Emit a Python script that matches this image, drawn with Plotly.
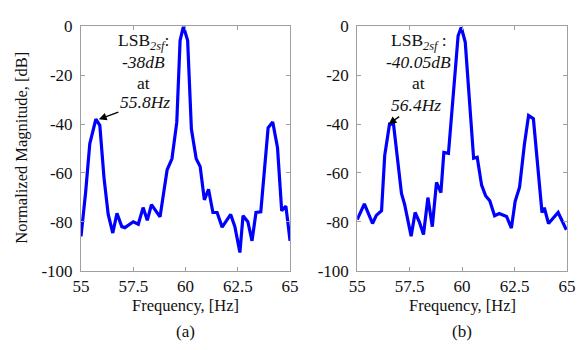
import plotly.graph_objects as go

# ---------------- data ----------------
freq_a = [55.0, 55.22, 55.42, 55.71, 55.9, 56.1, 56.3, 56.52, 56.72, 56.95, 57.1, 57.5,
          57.74, 57.97, 58.17, 58.37, 58.78, 59.12, 59.35, 59.58, 59.74, 59.9, 60.1,
          60.28, 60.51, 60.7, 60.9, 61.1, 61.31, 61.51, 61.75, 62.16, 62.36, 62.6,
          62.75, 62.98, 63.18, 63.37, 63.6, 63.95, 64.17, 64.4, 64.6, 64.8, 65.0]
mag_a = [-86.0, -68.0, -48.0, -38.0, -40.5, -62.0, -77.0, -84.6, -76.5, -82.0, -82.4, -80.0,
         -81.0, -74.2, -79.4, -73.0, -78.0, -58.7, -54.2, -39.3, -5.7, 0.0, -5.7,
         -42.0, -54.2, -57.4, -71.0, -66.7, -76.2, -76.2, -82.2, -77.0, -82.0, -92.6,
         -77.5, -80.0, -87.8, -76.2, -75.9, -41.5, -39.1, -49.7, -75.5, -73.6, -87.8]

freq_b = [55.0, 55.34, 55.73, 55.91, 56.16, 56.31, 56.54, 56.73, 57.11, 57.26, 57.57,
          57.76, 57.96, 58.16, 58.37, 58.58, 58.78, 58.99, 59.13, 59.35, 59.81, 59.96,
          60.15, 60.55, 60.72, 60.93, 61.12, 61.32, 61.55, 61.77, 62.12, 62.35, 62.53,
          62.74, 62.97, 63.17, 63.4, 63.81, 63.92, 64.12, 64.58, 64.97]
mag_b = [-79.1, -72.7, -80.7, -77.4, -75.5, -52.9, -40.0, -40.0, -68.4, -72.9, -85.9,
         -76.2, -80.0, -85.2, -70.1, -82.0, -63.9, -68.1, -51.6, -52.0, -3.8, -0.3,
         -6.4, -54.0, -53.6, -65.0, -69.3, -71.4, -77.5, -76.6, -77.8, -82.6, -71.6,
         -65.8, -48.4, -36.5, -37.8, -76.2, -74.2, -80.7, -76.2, -83.3]

x_ticks = [55, 57.5, 60, 62.5, 65]
x_tick_labels = ["55", "57.5", "60", "62.5", "65"]
y_ticks = [0, -20, -40, -60, -80, -100]
y_tick_labels = ["0", "-20", "-40", "-60", "-80", "-100"]

label_a = ["LSB<sub><i>2sf</i></sub>:", "<i>-38dB</i>", "at", "<i>55.8Hz</i>"]
label_b = ["LSB<sub><i>2sf</i></sub> :", "<i>-40.05dB</i>", "at", "<i>56.4Hz</i>"]

# ---------------- layout helpers ----------------
W, H = 584, 350
FONT = "Liberation Serif"


def px(x, y):
    return x / W, 1 - y / H


fig = go.Figure()
fig.add_trace(go.Scatter(x=freq_a, y=mag_a, mode="lines", xaxis="x", yaxis="y",
                         line=dict(color="#0000ff", width=3.2), showlegend=False))
fig.add_trace(go.Scatter(x=freq_b, y=mag_b, mode="lines", xaxis="x2", yaxis="y2",
                         line=dict(color="#0000ff", width=3.2), showlegend=False))

ydom = [1 - 276.6 / H, 1 - 18.5 / H]
axis_common = dict(showline=True, mirror="allticks", linecolor="#a0a0a0", linewidth=1,
                   ticks="inside", ticklen=4, tickcolor="#a0a0a0", showgrid=False,
                   zeroline=False, tickfont=dict(family=FONT, size=17, color="#111"))

fig.update_layout(
    width=W, height=H, margin=dict(l=0, r=0, t=0, b=0),
    font=dict(family=FONT, size=16, color="#111"),
    paper_bgcolor="white", plot_bgcolor="white",
    xaxis=dict(domain=[74.3 / W, 290 / W], range=[55, 65], tickvals=x_ticks,
               ticktext=x_tick_labels, anchor="y", **axis_common),
    yaxis=dict(domain=ydom, range=[-100, 0], tickvals=y_ticks, ticktext=y_tick_labels,
               anchor="x", ticklabelstandoff=4, **axis_common),
    xaxis2=dict(domain=[359.3 / W, 575.7 / W], range=[55, 65], tickvals=x_ticks,
                ticktext=x_tick_labels, anchor="y2", **axis_common),
    yaxis2=dict(domain=ydom, range=[-100, 0], tickvals=y_ticks, ticktext=y_tick_labels,
                anchor="x2", ticklabelstandoff=4, **axis_common),
)

ann = []


def text(x, y, s, size=16, angle=0):
    xp, yp = px(x, y)
    ann.append(dict(x=xp, y=yp, xref="paper", yref="paper", text=s, showarrow=False,
                    xanchor="center", yanchor="middle", textangle=angle,
                    font=dict(family=FONT, size=size, color="#111")))


text(12, 147, "Normalized Magnitude, [dB]", 16.5, -90)
text(182, 313, "Frequency, [Hz]", 16.5)
text(467.5, 313, "Frequency, [Hz]", 16.5)
text(182, 341, "(a)", 17)
text(467.5, 341, "(b)", 17)

line_y = [34, 56, 78]
for s, yy in zip(label_a[:3], line_y):
    text(139, yy, s, 17.5)
for s, yy in zip(label_b[:3], line_y):
    text(423, yy, s, 17.5)

# last label line carries the arrow pointing to the LSB peak
ia = mag_a.index(max(mag_a[:8]))
ib = mag_b.index(max(mag_b[:8]))
ann.append(dict(x=freq_a[ia], y=mag_a[ia], xref="x", yref="y", showarrow=True,
                text=label_a[3], font=dict(family=FONT, size=17.5, color="#111"),
                arrowhead=2, arrowsize=1.2, arrowwidth=1.3, arrowcolor="#000",
                ax=46, ay=-17, xshift=3, yshift=0, standoff=0))
ann.append(dict(x=freq_b[ib], y=mag_b[ib], xref="x2", yref="y2", showarrow=True,
                text=label_b[3], font=dict(family=FONT, size=17.5, color="#111"),
                arrowhead=2, arrowsize=1.2, arrowwidth=1.3, arrowcolor="#000",
                ax=27, ay=-19, xshift=-1, yshift=0, standoff=0))

fig.update_layout(annotations=ann)
fig.write_html("out.html")
